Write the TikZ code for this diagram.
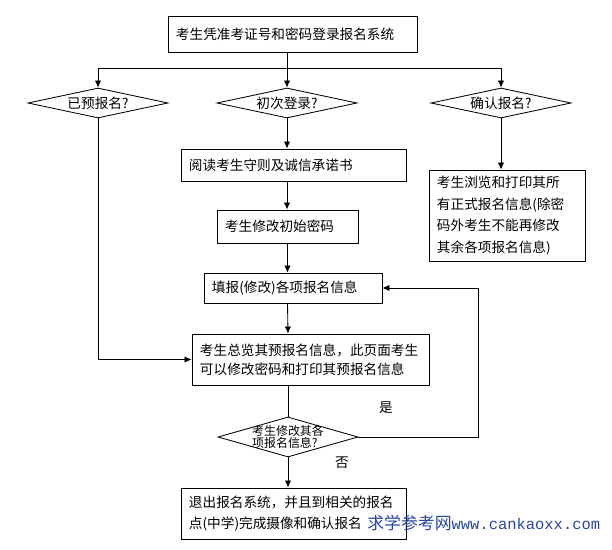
\documentclass[tikz,border=0pt]{standalone}
\usepackage{fontspec}
\newfontfamily\cjk{Noto Sans CJK SC}
\newfontfamily\markmono{Liberation Mono}
\usepackage{tikz}
\usepackage{xcolor}
\usetikzlibrary{arrows.meta, calc}
\usetikzlibrary{shapes.geometric}
\usetikzlibrary{positioning}
\definecolor{markblue}{RGB}{40,70,160}

\tikzset{
  box/.style={draw, rectangle, line width=0.6pt, align=left, inner xsep=0.2cm, inner ysep=0pt},
  decision/.style={draw, diamond, line width=0.6pt, inner sep=0pt, minimum width=3.5cm, minimum height=0.75cm},
  flow/.style={->, line width=0.6pt},
}

\begin{document}
\begin{tikzpicture}[>={Latex[length=5pt,width=4.5pt]}, x=0.025cm, y=-0.025cm,
  font=\cjk\fontsize{9.7}{15}\selectfont]

  \useasboundingbox (0,0) rectangle (612,550);

  % --- Ingresso ---
  \node[box, text width=5.825cm, minimum height=0.9cm] (login) at (292.5,34) {考生凭准考证号和密码登录报名系统};

  % --- Tre domande ---
  \node[decision, label=center:已预报名?] (d1) at (98,103) {};
  \node[decision, label=center:初次登录?] (d2) at (287,103) {};
  \node[decision, label=center:确认报名?] (d3) at (501,103) {};

  % --- Colonna centrale ---
  \node[box, text width=5.225cm, minimum height=0.8cm] (read) at (293.5,165) {阅读考生守则及诚信承诺书};
  \node[box, text width=3.125cm, minimum height=0.825cm] (setpw) at (287.5,226.5) {考生修改初始密码};
  \node[box, text width=4.05cm, minimum height=0.75cm] (fill) at (293,288) {填报(修改)各项报名信息};
  \node[box, text width=5.525cm, minimum height=1.275cm, font=\cjk\fontsize{9.7}{13.5}\selectfont] (overview) at (310.5,359.5)
    {考生总览其预报名信息，此页面考生\\可以修改密码和打印其预报名信息};
  \node[decision, minimum height=1cm,
    label={[align=left, font=\cjk\fontsize{8.5}{8.5}\selectfont]center:考生修改其各\\项报名信息?}] (d4) at (288,437) {};
  \node[box, text width=5.225cm, minimum height=1.275cm, font=\cjk\fontsize{9.7}{14.9}\selectfont] (exit) at (293.5,513.5)
    {退出报名系统，并且到相关的报名\\点(中学)完成摄像和确认报名};

  % --- Colonna destra ---
  \node[box, text width=3.5cm, minimum height=2.275cm, font=\cjk\fontsize{9.7}{15.4}\selectfont] (info) at (507,215.5)
    {考生浏览和打印其所\\有正式报名信息(除密\\码外考生不能再修改\\其余各项报名信息)};

  % --- Collegamenti ---
  \coordinate (split) at (287,68);
  \draw[line width=0.6pt] (login.south -| split) -- (split);
  \draw[flow] (split) -- (d2.north);
  \draw[flow] (split) -| (d1.north);
  \draw[flow] (split) -| (d3.north);
  \draw[flow] (d2.south) -- (d2.south |- read.north);
  \draw[flow] (d2.south |- read.south) -- (d2.south |- setpw.north);
  \draw[flow] (setpw.south) -- (setpw.south |- fill.north);
  \draw[flow] (setpw.south |- fill.south) -- (d4.north |- overview.north);
  \draw[line width=0.6pt] (d4.north |- overview.south) -- (d4.north);
  \draw[flow] (d4.south) -- node[pos=0.16, right=1.05cm] {否} (d4.south |- exit.north);
  \draw[flow] (d4.east) -- node[pos=0.23, above=0.45cm] {是} ++(120,0) |- (fill.east);
  \draw[flow] (d1.south) |- (overview.west);
  \draw[flow] (d3.south) -- (d3.south |- info.north);

  % --- Filigrana ---
  \node[anchor=west, inner sep=0pt, text=markblue] (mark) at (367,523)
    {{\cjk\fontsize{12}{12}\selectfont 求学参考网}{\markmono\fontsize{11}{11}\selectfont www.cankaoxx.com}};

\end{tikzpicture}
\end{document}
